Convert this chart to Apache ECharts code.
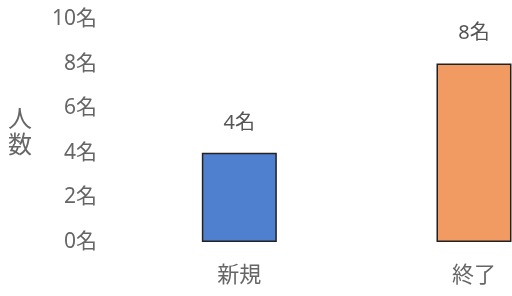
<!DOCTYPE html>
<html>
<head>
<meta charset="utf-8">
<script src="https://cdn.jsdelivr.net/npm/echarts@6/dist/echarts.min.js"></script>
<style>
html, body { margin: 0; padding: 0; background: #fff; }
#chart { width: 512px; height: 296px; }
</style>
</head>
<body>
<div id="chart"></div>
<script>
var categories = ['新規', '終了'];
var counts = [4, 8];
var barColors = ['#4f80d0', '#f19a62'];

var chart = echarts.init(document.getElementById('chart'), null, { renderer: 'canvas' });
var font = '"Noto Sans CJK JP", "Noto Sans", sans-serif';
var numFont = '"Noto Sans", "Noto Sans CJK JP", sans-serif';

// the original picture is cropped on the right, so the x range is cut short
var option = {
    animation: false,
    grid: { left: 122, right: 0, top: 19, bottom: 54 },
    xAxis: {
        type: 'value',
        min: -0.5,
        max: 1.162,
        splitLine: { show: false },
        axisLine: { show: false },
        axisTick: { show: false },
        axisLabel: {
            customValues: [0, 1],
            color: '#666', fontSize: 22, fontFamily: font, margin: 21,
            formatter: function (v) { return categories[Math.round(v)]; }
        }
    },
    yAxis: {
        type: 'value',
        min: 0,
        max: 10,
        interval: 2,
        name: '人\n数',
        nameLocation: 'middle',
        nameRotate: 0,
        nameGap: 90,
        nameTextStyle: { color: '#666', fontSize: 24, fontFamily: font, lineHeight: 26 },
        splitLine: { show: false },
        axisLine: { show: false },
        axisTick: { show: false },
        axisLabel: {
            color: '#666', fontSize: 21, fontFamily: numFont, margin: 25,
            formatter: function (v) { return v + '名'; }
        }
    },
    series: [{
        type: 'bar',
        barWidth: 75,
        data: counts.map(function (v, i) {
            return { value: [i, v], itemStyle: { color: barColors[i] } };
        }),
        itemStyle: { borderColor: '#222', borderWidth: 1.5 },
        label: {
            show: true,
            position: 'top',
            distance: 20,
            color: '#555',
            fontSize: 20,
            fontFamily: numFont,
            formatter: function (p) { return p.value[1] + '名'; }
        }
    }]
};
chart.setOption(option);
</script>
</body>
</html>
